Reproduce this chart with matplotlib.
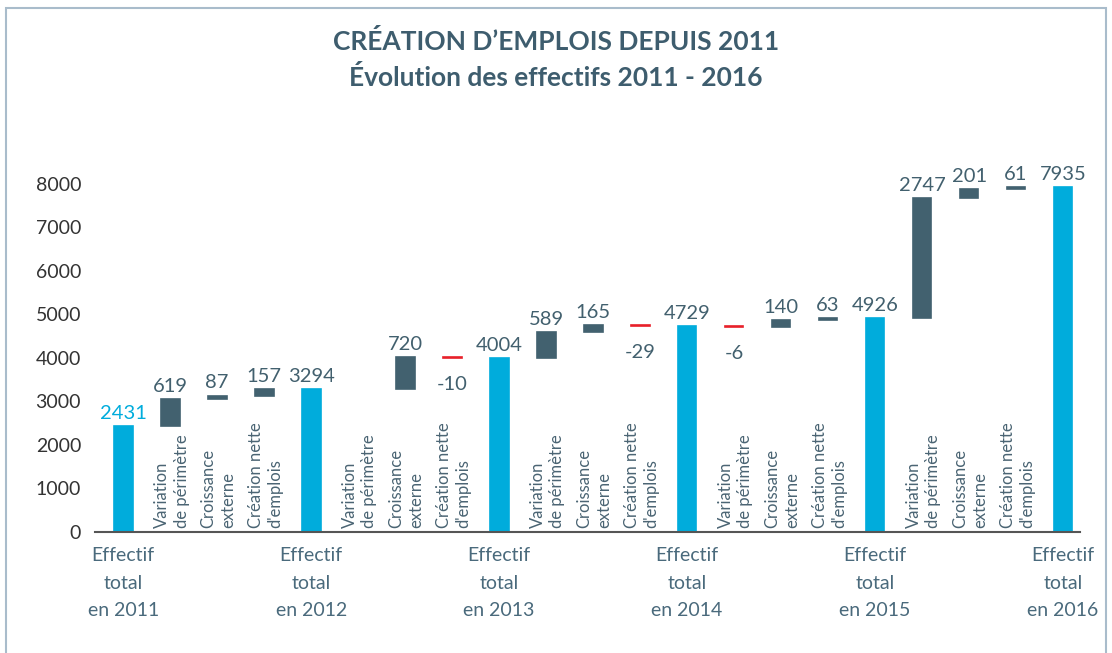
import matplotlib
matplotlib.use("Agg")
import matplotlib.pyplot as plt
from matplotlib.patches import Rectangle
import numpy as np

plt.rcParams['font.family'] = ['Lato', 'DejaVu Sans']

# données
cats = ["Effectif\ntotal\nen 2011", "Variation\nde périmètre", "Croissance\nexterne", "Création nette\nd'emplois",
        "Effectif\ntotal\nen 2012", "Variation\nde périmètre", "Croissance\nexterne", "Création nette\nd'emplois",
        "Effectif\ntotal\nen 2013", "Variation\nde périmètre", "Croissance\nexterne", "Création nette\nd'emplois",
        "Effectif\ntotal\nen 2014", "Variation\nde périmètre", "Croissance\nexterne", "Création nette\nd'emplois",
        "Effectif\ntotal\nen 2015", "Variation\nde périmètre", "Croissance\nexterne", "Création nette\nd'emplois",
        "Effectif\ntotal\nen 2016"]
values = [2431, 619, 87, 157, 3294, 0, 720, -10, 4004, 589, 165, -29,
          4729, -6, 140, 63, 4926, 2747, 201, 61, 7935]
is_total = [c.startswith("Effectif") for c in cats]
yticks = [0, 1000, 2000, 3000, 4000, 5000, 6000, 7000, 8000]

c_total = "#00acdc"
c_delta = "#42616f"
c_neg = "#e8202a"
c_text = "#4a6473"

fig = plt.figure(figsize=(11.12, 6.53), dpi=100)
ax = fig.add_axes([0.0854, 0.1853, 0.8858, 0.6003])

x = np.arange(len(values))
bottoms = []
heights = []
colors = []
run = 0
for v, t in zip(values, is_total):
    if t:
        bottoms.append(0)
        heights.append(v)
        colors.append(c_total)
        run = v
    else:
        if v >= 0:
            bottoms.append(run)
            heights.append(v)
            colors.append(c_delta)
        else:
            bottoms.append(run + v)
            heights.append(-v)
            colors.append(c_neg)
        run += v

show = [t or v != 0 for v, t in zip(values, is_total)]
xs = [xi for xi, s in zip(x, show) if s]
ax.bar(xs, [h for h, s in zip(heights, show) if s], bottom=[b for b, s in zip(bottoms, show) if s],
       width=0.4, color=[c for c, s in zip(colors, show) if s],
       edgecolor=[c for c, s in zip(colors, show) if s], linewidth=1.2)

for i, (v, t) in enumerate(zip(values, is_total)):
    if not t:
        ax.text(i + 0.03, 90, cats[i], rotation=90, ha="center", va="bottom", multialignment="left",
                fontsize=12, color=c_text, linespacing=1.3)
    if not show[i]:
        continue
    col = c_total if i == 0 else "#42606e"
    if v >= 0:
        ax.annotate(str(v), (i, bottoms[i] + heights[i]), xytext=(0, 3), textcoords="offset points",
                    ha="center", va="bottom", fontsize=14.5, color=col)
    else:
        ax.annotate(str(v), (i, bottoms[i]), xytext=(0, -13), textcoords="offset points",
                    ha="center", va="top", fontsize=14.5, color=col)

ax.set_xlim(-0.6, 20.36)
ax.set_ylim(0, 9010)
ax.set_yticks(yticks)
ax.set_yticklabels([str(t) for t in yticks], fontsize=14, color="#333333")
ax.tick_params(axis="y", length=0, pad=10)

tot_idx = [i for i, t in enumerate(is_total) if t]
ax.set_xticks(tot_idx)
ax.set_xticklabels([cats[i] for i in tot_idx], fontsize=14, color="#4a6a7c", linespacing=1.75)
ax.tick_params(axis="x", length=0, pad=11)

for s in ["top", "right", "left"]:
    ax.spines[s].set_visible(False)
ax.spines["bottom"].set_color("#555555")
ax.spines["bottom"].set_linewidth(1.5)

fig.text(0.5, 0.936, "CRÉATION D\u2019EMPLOIS DEPUIS 2011", ha="center", va="center", fontsize=19,
         fontweight="bold", color="#3e5d6e")
fig.text(0.5, 0.882, "Évolution des effectifs 2011 - 2016", ha="center", va="center", fontsize=19,
         fontweight="bold", color="#3e5d6e")

fig.patches.append(Rectangle((0.005, -0.01), 0.99, 0.998, transform=fig.transFigure, fill=False,
                             edgecolor="#a9bccb", linewidth=1.5))

fig.savefig("out.png", dpi=100)
